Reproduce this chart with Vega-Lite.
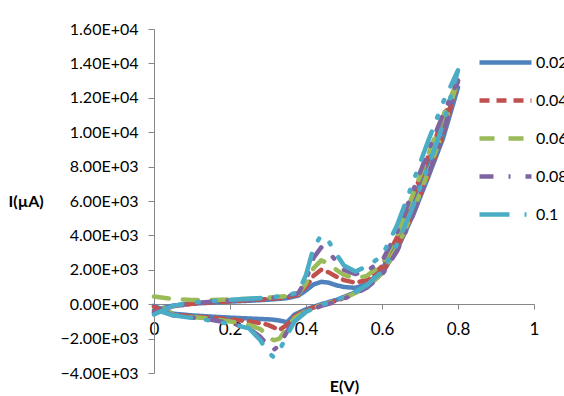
{
"$schema": "https://vega.github.io/schema/vega-lite/v6.json",
"width": 380, "height": 344,
"autosize": {"type": "none"},
"padding": {"left": 154, "top": 29, "right": 30, "bottom": 23},
"background": "white",
"config": {"view": {"stroke": null}, "font": "Lato"},
"data": {"values": [
{"s":"0.02","i":0,"E":0,"I":-350},{"s":"0.02","i":1,"E":0.05,"I":-80},{"s":"0.02","i":2,"E":0.1,"I":30},{"s":"0.02","i":3,"E":0.15,"I":90},{"s":"0.02","i":4,"E":0.2,"I":150},{"s":"0.02","i":5,"E":0.25,"I":200},{"s":"0.02","i":6,"E":0.3,"I":260},{"s":"0.02","i":7,"E":0.35,"I":350},{"s":"0.02","i":8,"E":0.38,"I":500},{"s":"0.02","i":9,"E":0.4,"I":800},{"s":"0.02","i":10,"E":0.42,"I":1150},{"s":"0.02","i":11,"E":0.44,"I":1300},{"s":"0.02","i":12,"E":0.46,"I":1250},{"s":"0.02","i":13,"E":0.48,"I":1100},{"s":"0.02","i":14,"E":0.5,"I":1000},{"s":"0.02","i":15,"E":0.53,"I":950},{"s":"0.02","i":16,"E":0.56,"I":1150},{"s":"0.02","i":17,"E":0.6,"I":2000},{"s":"0.02","i":18,"E":0.64,"I":3700},{"s":"0.02","i":19,"E":0.68,"I":5900},{"s":"0.02","i":20,"E":0.72,"I":8200},{"s":"0.02","i":21,"E":0.76,"I":10400},{"s":"0.02","i":22,"E":0.8,"I":12600},
{"s":"0.02","i":23,"E":0.76,"I":9600},{"s":"0.02","i":24,"E":0.72,"I":7300},{"s":"0.02","i":25,"E":0.68,"I":5100},{"s":"0.02","i":26,"E":0.64,"I":3200},{"s":"0.02","i":27,"E":0.6,"I":1800},{"s":"0.02","i":28,"E":0.56,"I":1050},{"s":"0.02","i":29,"E":0.52,"I":600},{"s":"0.02","i":30,"E":0.48,"I":250},{"s":"0.02","i":31,"E":0.44,"I":0},{"s":"0.02","i":32,"E":0.4,"I":-300},{"s":"0.02","i":33,"E":0.37,"I":-600},{"s":"0.02","i":34,"E":0.35,"I":-1050},{"s":"0.02","i":35,"E":0.33,"I":-950},{"s":"0.02","i":36,"E":0.315,"I":-900},{"s":"0.02","i":37,"E":0.3,"I":-880},{"s":"0.02","i":38,"E":0.28,"I":-860},{"s":"0.02","i":39,"E":0.25,"I":-830},{"s":"0.02","i":40,"E":0.2,"I":-780},{"s":"0.02","i":41,"E":0.15,"I":-720},{"s":"0.02","i":42,"E":0.1,"I":-650},{"s":"0.02","i":43,"E":0.05,"I":-550},{"s":"0.02","i":44,"E":0,"I":-100},

{"s":"0.04","i":0,"E":0,"I":-450},{"s":"0.04","i":1,"E":0.05,"I":-120},{"s":"0.04","i":2,"E":0.1,"I":20},{"s":"0.04","i":3,"E":0.15,"I":100},{"s":"0.04","i":4,"E":0.2,"I":170},{"s":"0.04","i":5,"E":0.25,"I":230},{"s":"0.04","i":6,"E":0.3,"I":300},{"s":"0.04","i":7,"E":0.35,"I":400},{"s":"0.04","i":8,"E":0.38,"I":550},{"s":"0.04","i":9,"E":0.4,"I":1000},{"s":"0.04","i":10,"E":0.42,"I":1650},{"s":"0.04","i":11,"E":0.44,"I":2000},{"s":"0.04","i":12,"E":0.46,"I":1850},{"s":"0.04","i":13,"E":0.48,"I":1600},{"s":"0.04","i":14,"E":0.5,"I":1400},{"s":"0.04","i":15,"E":0.53,"I":1250},{"s":"0.04","i":16,"E":0.56,"I":1400},{"s":"0.04","i":17,"E":0.6,"I":2200},{"s":"0.04","i":18,"E":0.64,"I":3900},{"s":"0.04","i":19,"E":0.68,"I":6200},{"s":"0.04","i":20,"E":0.72,"I":8500},{"s":"0.04","i":21,"E":0.76,"I":10700},{"s":"0.04","i":22,"E":0.8,"I":13000},
{"s":"0.04","i":23,"E":0.76,"I":9800},{"s":"0.04","i":24,"E":0.72,"I":7400},{"s":"0.04","i":25,"E":0.68,"I":5200},{"s":"0.04","i":26,"E":0.64,"I":3300},{"s":"0.04","i":27,"E":0.6,"I":1800},{"s":"0.04","i":28,"E":0.56,"I":1000},{"s":"0.04","i":29,"E":0.52,"I":550},{"s":"0.04","i":30,"E":0.48,"I":200},{"s":"0.04","i":31,"E":0.44,"I":-50},{"s":"0.04","i":32,"E":0.4,"I":-350},{"s":"0.04","i":33,"E":0.37,"I":-700},{"s":"0.04","i":34,"E":0.35,"I":-1200},{"s":"0.04","i":35,"E":0.33,"I":-1500},{"s":"0.04","i":36,"E":0.315,"I":-1350},{"s":"0.04","i":37,"E":0.3,"I":-1200},{"s":"0.04","i":38,"E":0.28,"I":-1100},{"s":"0.04","i":39,"E":0.25,"I":-1000},{"s":"0.04","i":40,"E":0.2,"I":-880},{"s":"0.04","i":41,"E":0.15,"I":-780},{"s":"0.04","i":42,"E":0.1,"I":-700},{"s":"0.04","i":43,"E":0.05,"I":-600},{"s":"0.04","i":44,"E":0,"I":-150},

{"s":"0.06","i":0,"E":0,"I":450},{"s":"0.06","i":1,"E":0.05,"I":300},{"s":"0.06","i":2,"E":0.1,"I":250},{"s":"0.06","i":3,"E":0.15,"I":250},{"s":"0.06","i":4,"E":0.2,"I":280},{"s":"0.06","i":5,"E":0.25,"I":320},{"s":"0.06","i":6,"E":0.3,"I":380},{"s":"0.06","i":7,"E":0.35,"I":480},{"s":"0.06","i":8,"E":0.38,"I":600},{"s":"0.06","i":9,"E":0.4,"I":1200},{"s":"0.06","i":10,"E":0.42,"I":2100},{"s":"0.06","i":11,"E":0.44,"I":2550},{"s":"0.06","i":12,"E":0.46,"I":2350},{"s":"0.06","i":13,"E":0.48,"I":2000},{"s":"0.06","i":14,"E":0.5,"I":1700},{"s":"0.06","i":15,"E":0.53,"I":1500},{"s":"0.06","i":16,"E":0.56,"I":1650},{"s":"0.06","i":17,"E":0.6,"I":2300},{"s":"0.06","i":18,"E":0.64,"I":4000},{"s":"0.06","i":19,"E":0.68,"I":6300},{"s":"0.06","i":20,"E":0.72,"I":8600},{"s":"0.06","i":21,"E":0.76,"I":10900},{"s":"0.06","i":22,"E":0.8,"I":13100},
{"s":"0.06","i":23,"E":0.76,"I":10000},{"s":"0.06","i":24,"E":0.72,"I":7600},{"s":"0.06","i":25,"E":0.68,"I":5300},{"s":"0.06","i":26,"E":0.64,"I":3300},{"s":"0.06","i":27,"E":0.6,"I":1800},{"s":"0.06","i":28,"E":0.56,"I":1000},{"s":"0.06","i":29,"E":0.52,"I":550},{"s":"0.06","i":30,"E":0.48,"I":200},{"s":"0.06","i":31,"E":0.44,"I":-50},{"s":"0.06","i":32,"E":0.4,"I":-400},{"s":"0.06","i":33,"E":0.37,"I":-800},{"s":"0.06","i":34,"E":0.35,"I":-1400},{"s":"0.06","i":35,"E":0.33,"I":-2000},{"s":"0.06","i":36,"E":0.315,"I":-2100},{"s":"0.06","i":37,"E":0.3,"I":-1850},{"s":"0.06","i":38,"E":0.28,"I":-1450},{"s":"0.06","i":39,"E":0.25,"I":-1200},{"s":"0.06","i":40,"E":0.2,"I":-1000},{"s":"0.06","i":41,"E":0.15,"I":-850},{"s":"0.06","i":42,"E":0.1,"I":-750},{"s":"0.06","i":43,"E":0.05,"I":-620},{"s":"0.06","i":44,"E":0,"I":250},

{"s":"0.08","i":0,"E":0,"I":-500},{"s":"0.08","i":1,"E":0.05,"I":-150},{"s":"0.08","i":2,"E":0.1,"I":50},{"s":"0.08","i":3,"E":0.15,"I":150},{"s":"0.08","i":4,"E":0.2,"I":220},{"s":"0.08","i":5,"E":0.25,"I":280},{"s":"0.08","i":6,"E":0.3,"I":350},{"s":"0.08","i":7,"E":0.35,"I":450},{"s":"0.08","i":8,"E":0.38,"I":650},{"s":"0.08","i":9,"E":0.4,"I":1400},{"s":"0.08","i":10,"E":0.42,"I":2700},{"s":"0.08","i":11,"E":0.44,"I":3300},{"s":"0.08","i":12,"E":0.46,"I":3000},{"s":"0.08","i":13,"E":0.48,"I":2500},{"s":"0.08","i":14,"E":0.5,"I":2000},{"s":"0.08","i":15,"E":0.53,"I":1750},{"s":"0.08","i":16,"E":0.56,"I":1950},{"s":"0.08","i":17,"E":0.6,"I":2500},{"s":"0.08","i":18,"E":0.64,"I":4200},{"s":"0.08","i":19,"E":0.68,"I":6500},{"s":"0.08","i":20,"E":0.72,"I":8800},{"s":"0.08","i":21,"E":0.76,"I":11000},{"s":"0.08","i":22,"E":0.8,"I":13000},
{"s":"0.08","i":23,"E":0.76,"I":9900},{"s":"0.08","i":24,"E":0.72,"I":7400},{"s":"0.08","i":25,"E":0.68,"I":5100},{"s":"0.08","i":26,"E":0.64,"I":3100},{"s":"0.08","i":27,"E":0.6,"I":1700},{"s":"0.08","i":28,"E":0.56,"I":950},{"s":"0.08","i":29,"E":0.52,"I":500},{"s":"0.08","i":30,"E":0.48,"I":150},{"s":"0.08","i":31,"E":0.44,"I":-100},{"s":"0.08","i":32,"E":0.4,"I":-450},{"s":"0.08","i":33,"E":0.37,"I":-900},{"s":"0.08","i":34,"E":0.35,"I":-1600},{"s":"0.08","i":35,"E":0.33,"I":-2400},{"s":"0.08","i":36,"E":0.315,"I":-2650},{"s":"0.08","i":37,"E":0.3,"I":-2400},{"s":"0.08","i":38,"E":0.28,"I":-1900},{"s":"0.08","i":39,"E":0.25,"I":-1400},{"s":"0.08","i":40,"E":0.2,"I":-1100},{"s":"0.08","i":41,"E":0.15,"I":-900},{"s":"0.08","i":42,"E":0.1,"I":-780},{"s":"0.08","i":43,"E":0.05,"I":-650},{"s":"0.08","i":44,"E":0,"I":-200},

{"s":"0.1","i":0,"E":0,"I":-600},{"s":"0.1","i":1,"E":0.05,"I":-100},{"s":"0.1","i":2,"E":0.1,"I":100},{"s":"0.1","i":3,"E":0.15,"I":180},{"s":"0.1","i":4,"E":0.2,"I":250},{"s":"0.1","i":5,"E":0.25,"I":320},{"s":"0.1","i":6,"E":0.3,"I":380},{"s":"0.1","i":7,"E":0.35,"I":500},{"s":"0.1","i":8,"E":0.38,"I":700},{"s":"0.1","i":9,"E":0.4,"I":1700},{"s":"0.1","i":10,"E":0.42,"I":3300},{"s":"0.1","i":11,"E":0.44,"I":4000},{"s":"0.1","i":12,"E":0.46,"I":3650},{"s":"0.1","i":13,"E":0.48,"I":2900},{"s":"0.1","i":14,"E":0.5,"I":2250},{"s":"0.1","i":15,"E":0.53,"I":1900},{"s":"0.1","i":16,"E":0.56,"I":2200},{"s":"0.1","i":17,"E":0.6,"I":2800},{"s":"0.1","i":18,"E":0.64,"I":4600},{"s":"0.1","i":19,"E":0.68,"I":7000},{"s":"0.1","i":20,"E":0.72,"I":9400},{"s":"0.1","i":21,"E":0.76,"I":11700},{"s":"0.1","i":22,"E":0.8,"I":13600},
{"s":"0.1","i":23,"E":0.76,"I":10400},{"s":"0.1","i":24,"E":0.72,"I":7900},{"s":"0.1","i":25,"E":0.68,"I":5600},{"s":"0.1","i":26,"E":0.64,"I":3500},{"s":"0.1","i":27,"E":0.6,"I":1900},{"s":"0.1","i":28,"E":0.56,"I":1100},{"s":"0.1","i":29,"E":0.52,"I":600},{"s":"0.1","i":30,"E":0.48,"I":250},{"s":"0.1","i":31,"E":0.44,"I":-50},{"s":"0.1","i":32,"E":0.4,"I":-450},{"s":"0.1","i":33,"E":0.37,"I":-1000},{"s":"0.1","i":34,"E":0.35,"I":-1800},{"s":"0.1","i":35,"E":0.33,"I":-2700},{"s":"0.1","i":36,"E":0.315,"I":-3080},{"s":"0.1","i":37,"E":0.3,"I":-2800},{"s":"0.1","i":38,"E":0.28,"I":-2100},{"s":"0.1","i":39,"E":0.25,"I":-1400},{"s":"0.1","i":40,"E":0.2,"I":-1150},{"s":"0.1","i":41,"E":0.15,"I":-950},{"s":"0.1","i":42,"E":0.1,"I":-800},{"s":"0.1","i":43,"E":0.05,"I":-650},{"s":"0.1","i":44,"E":0,"I":-300}
]},
"mark": {"type": "line", "strokeWidth": 4.5, "strokeCap": "round", "strokeJoin": "round"},
"encoding": {
  "x": {"field": "E", "type": "quantitative", "scale": {"domain": [0, 1], "nice": false},
    "axis": {"title": "E(V)", "values": [0, 0.2, 0.4, 0.6, 0.8, 1], "format": "~g", "grid": false, "offset": -69,
      "domainColor": "#868686", "tickColor": "#868686", "tickSize": 5, "labelFlush": false,
      "labelFontSize": 17, "labelColor": "black", "labelPadding": 12,
      "titleFontSize": 16, "titleFontWeight": "bold", "titleColor": "black", "titlePadding": 41}},
  "y": {"field": "I", "type": "quantitative", "scale": {"domain": [-4000, 16000], "nice": false},
    "axis": {"title": "I(µA)", "values": [-4000, -2000, 0, 2000, 4000, 6000, 8000, 10000, 12000, 14000, 16000],
      "labelExpr": "datum.value == 0 ? '0.00E+00' : abs(datum.value) >= 10000 ? format(datum.value/10000, '.2f') + 'E+04' : format(datum.value/1000, '.2f') + 'E+03'",
      "grid": false, "domainColor": "#868686", "tickColor": "#868686", "tickSize": 6,
      "labelFontSize": 16, "labelColor": "black", "labelPadding": 10,
      "titleAngle": 0, "titleX": -146, "titleY": 172, "titleAlign": "left", "titleBaseline": "middle",
      "titleFontSize": 16, "titleFontWeight": "bold", "titleColor": "black"}},
  "color": {"field": "s", "type": "nominal",
    "scale": {"domain": ["0.02", "0.04", "0.06", "0.08", "0.1"], "range": ["#4F81BD", "#C0504D", "#9BBB59", "#8064A2", "#4BACC6"]},
    "legend": {"title": null, "orient": "none", "legendX": 323, "legendY": 5, "symbolType": "stroke", "symbolSize": 2704,
      "symbolStrokeWidth": 4.5, "labelFontSize": 16, "labelColor": "black", "labelOffset": 2, "padding": 0, "rowPadding": 0}},
  "strokeDash": {"field": "s", "type": "nominal",
    "scale": {"domain": ["0.02", "0.04", "0.06", "0.08", "0.1"], "range": [[1, 0], [10, 7], [15, 14], [14, 15, 2, 15], [30, 15, 2, 15, 2, 15]]},
    "legend": {"title": null, "orient": "none", "legendX": 323, "legendY": 5, "symbolType": "stroke", "symbolSize": 2704,
      "symbolStrokeWidth": 4.5, "labelFontSize": 16, "labelColor": "black", "labelOffset": 2, "padding": 0, "rowPadding": 0}},
  "order": {"field": "i", "type": "quantitative"}
}
}
